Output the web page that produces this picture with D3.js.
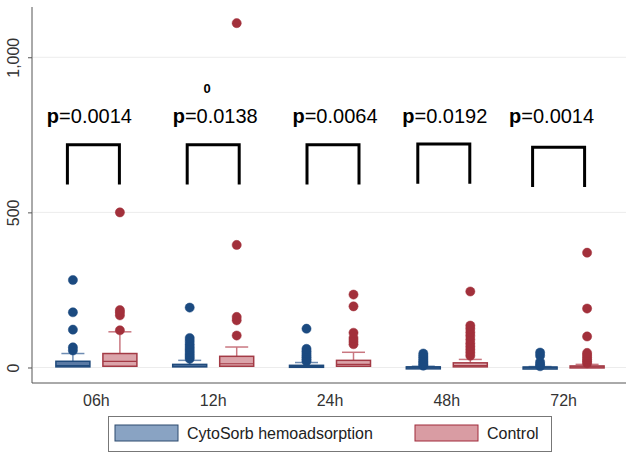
<!DOCTYPE html>
<html><head><meta charset="utf-8">
<script src="https://cdn.jsdelivr.net/npm/d3@7/dist/d3.min.js"></script>
<style>body{margin:0;background:#fff;}svg{display:block;font-family:"Liberation Sans",Arial,sans-serif;}</style>
</head><body>
<svg id="chart" width="633" height="454"></svg>
<script>
// ---- data ----
const categories = ["06h", "12h", "24h", "48h", "72h"];
const seriesNames = ["CytoSorb hemoadsorption", "Control"];
const yTicks = [0, 500, 1000];
const pValues = ["0.0014", "0.0138", "0.0064", "0.0192", "0.0014"];

// CytoSorb box stats per category
const cytoQ1 = [2, 2, 1, 0.5, 0];
const cytoMedian = [6, 4, 3, 1, 0.5];
const cytoQ3 = [20, 10, 7, 2, 1.5];
const cytoLow = [0, 0, 0, 0, 0];
const cytoHigh = [45, 23, 16, 4, 3];
const cytoOutliers = [
  [55, 65, 122, 178, 282],
  [28, 35, 42, 50, 58, 66, 75, 85, 95, 193],
  [20, 26, 32, 38, 45, 52, 60, 125],
  [6, 10, 15, 20, 26, 32, 38, 45],
  [4, 10, 18, 38, 48]
];

// Control box stats per category
const ctrlQ1 = [4, 4, 4, 2, 1];
const ctrlMedian = [20, 12, 10, 6, 2];
const ctrlQ3 = [45, 36, 23, 15, 5];
const ctrlLow = [0, 0, 0, 0, 0];
const ctrlHigh = [115, 66, 49, 26, 10];
const ctrlOutliers = [
  [120, 168, 178, 185, 500],
  [103, 152, 163, 395, 1110],
  [75, 85, 95, 112, 197, 235],
  [38, 48, 58, 68, 78, 90, 102, 113, 125, 135, 245],
  [14, 20, 26, 33, 40, 47, 100, 190, 370]
];

// ---- layout (annotation placement) ----
const pLabelDx = [-7, 2, 5, -2, -12];
const bracketDx = [-3, 0, 3, -3, -5];
const bracketTop = [718, 718, 718, 720, 710];
const bracketBottom = [590, 590, 590, 592, 582];

const colors = {
  cyto: {dot: "#1b4a80", fill: "#5a7aa5", stroke: "#1f4a7c", whisk: "#6f8db3", legFill: "#89a3c3", legStroke: "#2c4a6e"},
  ctrl: {dot: "#a2303b", fill: "#dba4aa", stroke: "#a33a45", whisk: "#c97780", legFill: "#d99ca3", legStroke: "#a02b3a"}
};

const svg = d3.select("#chart");
const x = d3.scaleBand().domain(categories).range([38, 622]);
const sub = d3.scaleBand().domain(["cyto", "ctrl"]).range([x.bandwidth()/2 - 47, x.bandwidth()/2 + 47]);
const y = d3.scaleLinear().domain([-50, 1162]).range([383, 7]);

// gridlines
svg.append("g").selectAll("line").data(yTicks).join("line")
  .attr("x1", 33).attr("x2", 626).attr("y1", d => y(d)).attr("y2", d => y(d))
  .attr("stroke", "#ececec").attr("stroke-width", 1);

// y axis
const yAxis = svg.append("g").attr("transform", "translate(32,0)")
  .call(d3.axisLeft(y).tickValues(yTicks).tickSize(4).tickFormat(d3.format(",")));
yAxis.select(".domain").attr("stroke", "#555").attr("d", "M0,7V383");
yAxis.selectAll(".tick line").attr("stroke", "#555");
yAxis.selectAll(".tick text").attr("font-size", 16).attr("fill", "#333")
  .attr("transform", "rotate(-90)").attr("x", 0).attr("y", -13).attr("dy", "0").attr("text-anchor", "middle")
  .attr("dominant-baseline", "auto");

// x axis
const xAxis = svg.append("g").attr("transform", "translate(0,383)")
  .call(d3.axisBottom(x).tickSize(0).tickPadding(8));
xAxis.select(".domain").attr("stroke", "#555").attr("d", "M32,0H626");
xAxis.selectAll(".tick text").attr("font-size", 16).attr("fill", "#333").attr("dy", "0.95em");

function stats(key) {
  const s = key === "cyto"
    ? [cytoQ1, cytoMedian, cytoQ3, cytoLow, cytoHigh, cytoOutliers]
    : [ctrlQ1, ctrlMedian, ctrlQ3, ctrlLow, ctrlHigh, ctrlOutliers];
  return categories.map((c, i) => ({cat: c, key, q1: s[0][i], med: s[1][i], q3: s[2][i], lo: s[3][i], hi: s[4][i], out: s[5][i]}));
}
const boxW = 34, capW = 23;
["cyto", "ctrl"].forEach(key => {
  const col = colors[key];
  const g = svg.append("g");
  const data = stats(key);
  const cx = d => x(d.cat) + sub(key) + sub.bandwidth()/2;
  // whiskers
  g.selectAll(".wv").data(data).join("line")
    .attr("x1", cx).attr("x2", cx).attr("y1", d => y(d.q3)).attr("y2", d => y(d.hi))
    .attr("stroke", col.whisk).attr("stroke-width", 1.5);
  g.selectAll(".wc").data(data).join("line")
    .attr("x1", d => cx(d) - capW/2).attr("x2", d => cx(d) + capW/2)
    .attr("y1", d => y(d.hi)).attr("y2", d => y(d.hi))
    .attr("stroke", col.whisk).attr("stroke-width", 1.5);
  // boxes
  g.selectAll(".bx").data(data).join("rect")
    .attr("x", d => cx(d) - boxW/2).attr("width", boxW)
    .attr("y", d => y(d.q3)).attr("height", d => Math.max(2, y(d.q1) - y(d.q3)))
    .attr("fill", col.fill).attr("stroke", col.stroke).attr("stroke-width", 1.5);
  g.selectAll(".md").data(data).join("line")
    .attr("x1", d => cx(d) - boxW/2).attr("x2", d => cx(d) + boxW/2)
    .attr("y1", d => y(d.med)).attr("y2", d => y(d.med))
    .attr("stroke", col.stroke).attr("stroke-width", 1.2);
  // outliers
  const pts = data.flatMap(d => d.out.map(v => ({cat: d.cat, v})));
  g.selectAll("circle").data(pts).join("circle")
    .attr("cx", d => x(d.cat) + sub(key) + sub.bandwidth()/2).attr("cy", d => y(d.v)).attr("r", 4.6)
    .attr("fill", col.dot).attr("stroke", col.dot).attr("stroke-opacity", 0.6).attr("stroke-width", 0.8);
});

// p-value annotations
const ann = svg.append("g");
categories.forEach((c, i) => {
  const gc = x(c) + x.bandwidth()/2;
  const t = ann.append("text").attr("x", gc + pLabelDx[i]).attr("y", y(788))
    .attr("text-anchor", "middle").attr("font-size", 20).attr("fill", "#000");
  t.append("tspan").attr("font-weight", "bold").text("p");
  t.append("tspan").text("=" + pValues[i]);
  const bx = gc + bracketDx[i];
  ann.append("path")
    .attr("d", `M${bx-26},${y(bracketBottom[i])}V${y(bracketTop[i])}H${bx+26}V${y(bracketBottom[i])}`)
    .attr("fill", "none").attr("stroke", "#000").attr("stroke-width", 3);
});
ann.append("text").attr("x", x("12h") + x.bandwidth()/2 - 6).attr("y", 93)
  .attr("text-anchor", "middle").attr("font-size", 13).attr("font-weight", "bold").text("0");

// legend
const leg = svg.append("g");
leg.append("rect").attr("x", 108.5).attr("y", 416.5).attr("width", 443).attr("height", 35)
  .attr("fill", "#fff").attr("stroke", "#777").attr("stroke-width", 1);
const legItems = [
  {name: seriesNames[0], key: "cyto", sx: 115, tx: 187},
  {name: seriesNames[1], key: "ctrl", sx: 415, tx: 487}
];
legItems.forEach(it => {
  leg.append("rect").attr("x", it.sx).attr("y", 425).attr("width", 63).attr("height", 16)
    .attr("fill", colors[it.key].legFill).attr("stroke", colors[it.key].legStroke).attr("stroke-width", 1);
  leg.append("text").attr("x", it.tx).attr("y", 439).attr("font-size", 16).attr("fill", "#222").text(it.name);
});
</script>
</body></html>
